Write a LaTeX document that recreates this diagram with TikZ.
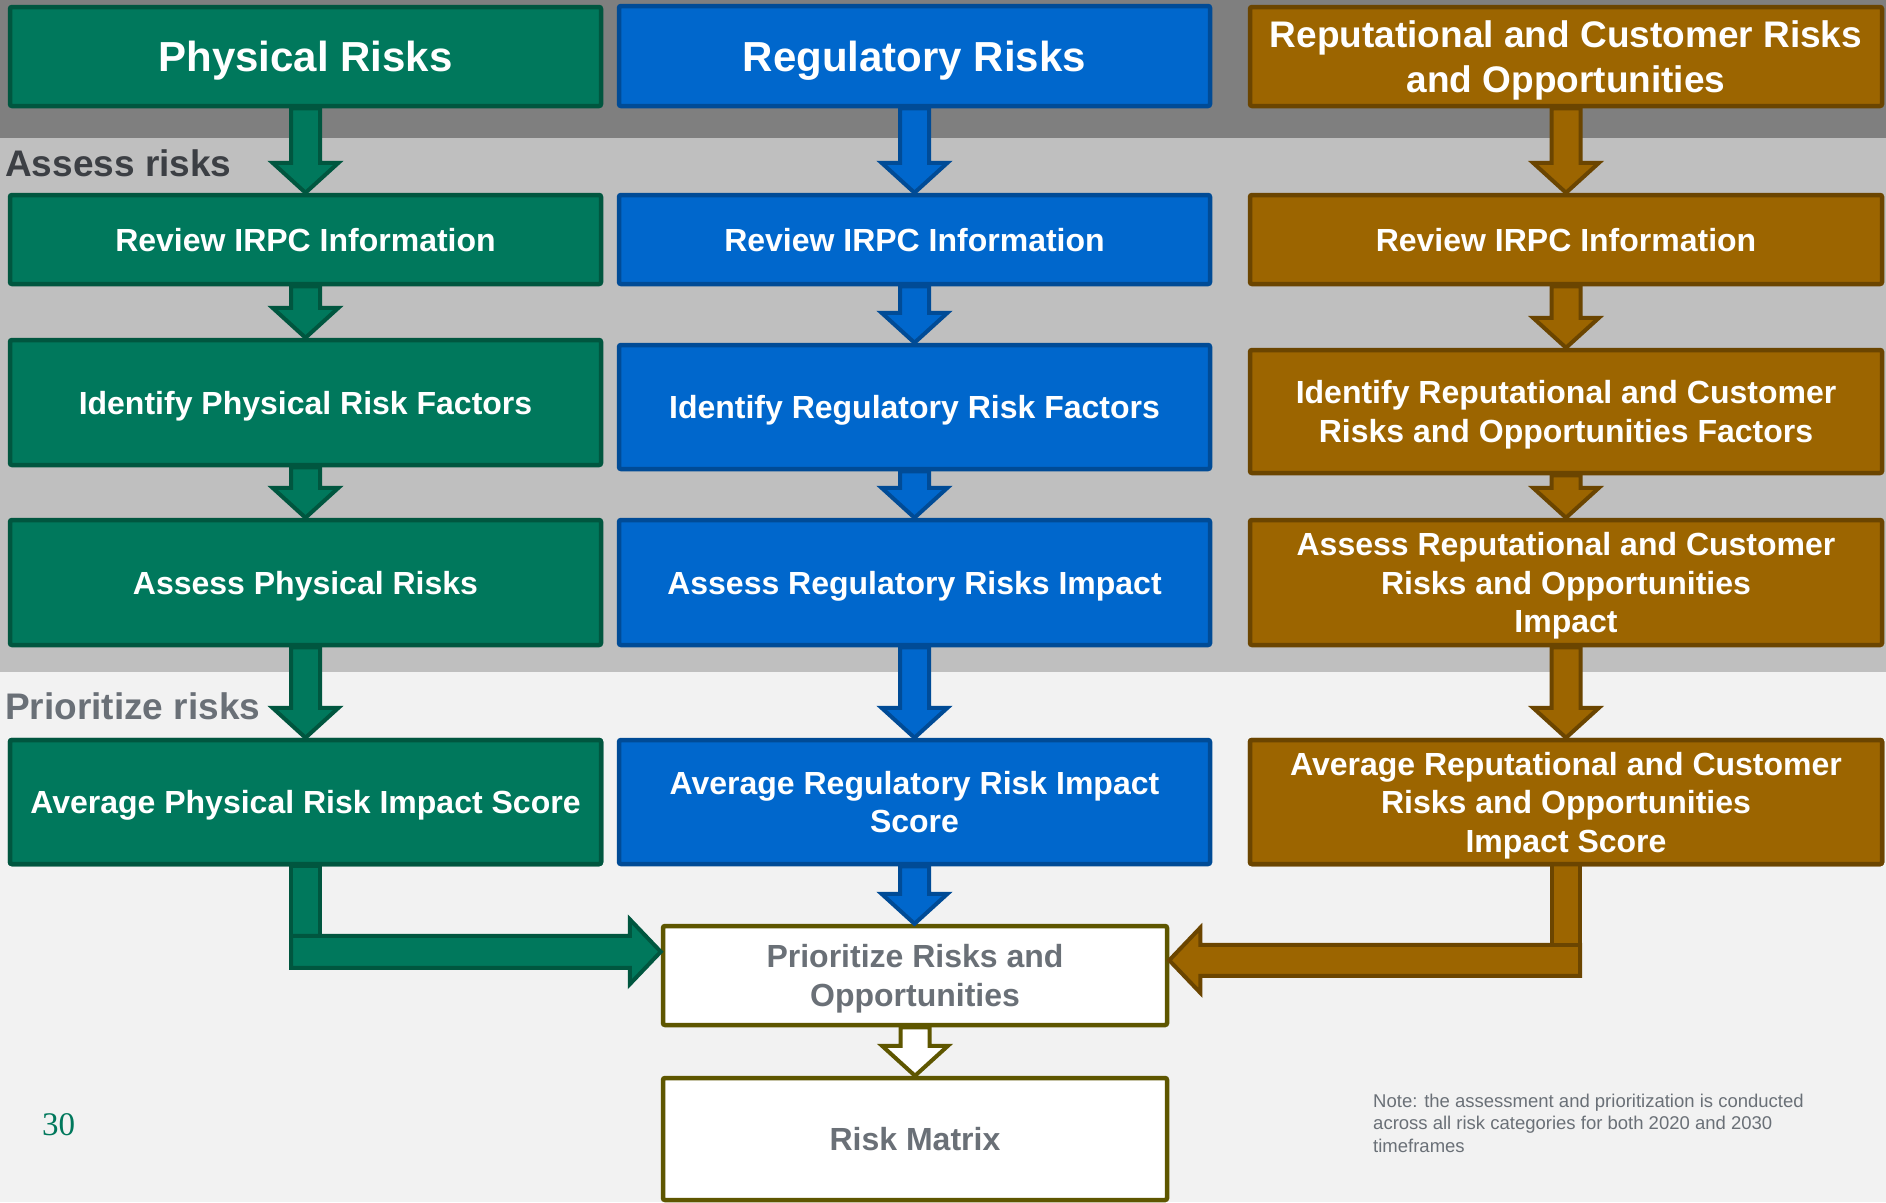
\documentclass[tikz,border=0pt]{standalone}
\usepackage{fontspec}
\setmainfont{Liberation Sans}
\newfontfamily\pagenumfont{Liberation Serif}
\usetikzlibrary{calc}

\definecolor{gfill}{HTML}{00785C}
\definecolor{gline}{HTML}{00563F}
\definecolor{bfill}{HTML}{0067CC}
\definecolor{bline}{HTML}{004B96}
\definecolor{rfill}{HTML}{9C6500}
\definecolor{rline}{HTML}{6B4500}
\definecolor{oline}{HTML}{5E5600}
\definecolor{bandA}{HTML}{7F7F7F}
\definecolor{bandB}{HTML}{BFBFBF}
\definecolor{bandC}{HTML}{F2F2F2}
\definecolor{txtgray}{HTML}{6A7077}
\definecolor{txtdark}{HTML}{3C3F44}

\tikzset{
  box/.style={rectangle, line width=4.5pt, rounded corners=2pt, align=center,
    inner sep=0pt, text depth=0pt, text=white,
    font=\bfseries\fontsize{32}{38.5}\selectfont},
  gbox/.style={box, draw=gline, fill=gfill},
  bbox/.style={box, draw=bline, fill=bfill},
  rbox/.style={box, draw=rline, fill=rfill},
  wbox/.style={box, draw=oline, fill=white, text=txtgray},
  flow/.style={line width=4pt, line join=miter},
  gflow/.style={flow, draw=gline, fill=gfill},
  bflow/.style={flow, draw=bline, fill=bfill},
  rflow/.style={flow, draw=rline, fill=rfill},
  wflow/.style={flow, draw=oline, fill=white},
  lanelabel/.style={anchor=base west, inner sep=0pt, font=\bfseries\fontsize{37}{44}\selectfont},
}

% vertical block arrow from the bottom of #1 to the top of #2
\newcommand\vflow[3]{%
  \draw[#3] let \p1=(#1.south), \p2=(#2.north) in
    (\x1-14.5pt,\y1) -- (\x1-14.5pt,\y2+30pt) -- (\x1-33pt,\y2+30pt) --
    (\x1,\y2) -- (\x1+33pt,\y2+30pt) -- (\x1+14.5pt,\y2+30pt) --
    (\x1+14.5pt,\y1) -- cycle;}

\begin{document}
\begin{tikzpicture}[x=1pt,y=-1pt]
\useasboundingbox (0,0) rectangle (1886,1202);

% background bands
\fill[bandA] (0,0) rectangle (1886,138);
\fill[bandB] (0,138) rectangle (1886,672);
\fill[bandC] (0,672) rectangle (1886,1202);

% lane labels
\node[lanelabel, text=txtdark] (lblassess) at (5,176) {Assess risks};
\node[lanelabel, text=txtgray] (lblprio) at (5,719) {Prioritize risks};

% column headers
\node[gbox, minimum width=591, minimum height=99, font=\bfseries\fontsize{42}{50}\selectfont]
  (phys) at (305.5,56.5) {Physical Risks};
\node[bbox, minimum width=591, minimum height=100, font=\bfseries\fontsize{42}{50}\selectfont]
  (reg) at (914.5,56) {Regulatory Risks};
\node[rbox, minimum width=632, minimum height=99, font=\bfseries\fontsize{37}{45}\selectfont]
  (rep) at (1566,56.5) {Reputational and Customer Risks\\and Opportunities};

% review step
\node[gbox, minimum width=591, minimum height=89] (physrev) at (305.5,239.5) {Review IRPC Information};
\node[bbox, minimum width=591, minimum height=89] (regrev) at (914.5,239.5) {Review IRPC Information};
\node[rbox, minimum width=632, minimum height=89] (reprev) at (1566,239.5) {Review IRPC Information};

% identify step
\node[gbox, minimum width=591, minimum height=125] (physid) at (305.5,402.5) {Identify Physical Risk Factors};
\node[bbox, minimum width=591, minimum height=124] (regid) at (914.5,407) {Identify Regulatory Risk Factors};
\node[rbox, minimum width=632, minimum height=123] (repid) at (1566,411.5)
  {Identify Reputational and Customer\\Risks and Opportunities Factors};

% assess step
\node[gbox, minimum width=591, minimum height=125] (physas) at (305.5,582.5) {Assess Physical Risks};
\node[bbox, minimum width=591, minimum height=125] (regas) at (914.5,582.5) {Assess Regulatory Risks Impact};
\node[rbox, minimum width=632, minimum height=125] (repas) at (1566,582.5)
  {Assess Reputational and Customer\\Risks and Opportunities\\Impact};

% average score step
\node[gbox, minimum width=591, minimum height=124] (physavg) at (305.5,802) {Average Physical Risk Impact Score};
\node[bbox, minimum width=591, minimum height=124] (regavg) at (914.5,802) {Average Regulatory Risk Impact\\Score};
\node[rbox, minimum width=632, minimum height=124] (repavg) at (1566,802)
  {Average Reputational and Customer\\Risks and Opportunities\\Impact Score};

% common steps
\node[wbox, minimum width=504, minimum height=99] (prio) at (915,975.5) {Prioritize Risks and\\Opportunities};
\node[wbox, minimum width=504, minimum height=122] (matrix) at (915,1139) {Risk Matrix};

% column flows
\vflow{phys}{physrev}{gflow}
\vflow{physrev}{physid}{gflow}
\vflow{physid}{physas}{gflow}
\vflow{physas}{physavg}{gflow}
\vflow{reg}{regrev}{bflow}
\vflow{regrev}{regid}{bflow}
\vflow{regid}{regas}{bflow}
\vflow{regas}{regavg}{bflow}
\vflow{regavg}{prio}{bflow}
\vflow{rep}{reprev}{rflow}
\vflow{reprev}{repid}{rflow}
\vflow{repid}{repas}{rflow}
\vflow{repas}{repavg}{rflow}
\vflow{prio}{matrix}{wflow}

% elbow flow from the physical column into the prioritization step
\draw[gflow] let \p1=(physavg.south), \p2=($(prio.north west)+(0,28)$) in
  (\x1-14.5pt,\y1) rectangle (\x1+14.5pt,\y2-16pt);
\draw[gflow] let \p1=(physavg.south), \p2=($(prio.north west)+(0,28)$) in
  (\x1-14.5pt,\y2+16pt) -- (\x2-31pt,\y2+16pt) -- (\x2-31pt,\y2+32.5pt) --
  (\x2,\y2) -- (\x2-31pt,\y2-32.5pt) -- (\x2-31pt,\y2-16pt) --
  (\x1-14.5pt,\y2-16pt) -- cycle;

% elbow flow from the reputational column into the prioritization step
\draw[rflow] let \p1=(repavg.south), \p2=($(prio.north east)+(0,36.5)$) in
  (\x1+14pt,\y2+15.5pt) -- (\x2+31pt,\y2+15.5pt) -- (\x2+31pt,\y2+32.5pt) --
  (\x2,\y2) -- (\x2+31pt,\y2-32.5pt) -- (\x2+31pt,\y2-15.5pt) --
  (\x1+14pt,\y2-15.5pt) -- cycle;
\draw[rflow] let \p1=(repavg.south), \p2=($(prio.north east)+(0,36.5)$) in
  (\x1-14pt,\y1) -- (\x1-14pt,\y2+15.5pt) -- (\x1+14pt,\y2+15.5pt) -- (\x1+14pt,\y1);

% redraw boxes touched by the flows so their borders stay on top
\node[gbox, minimum width=591, minimum height=124] at (physavg) {Average Physical Risk Impact Score};
\node[rbox, minimum width=632, minimum height=124] at (repavg)
  {Average Reputational and Customer\\Risks and Opportunities\\Impact Score};

% footnote and page number
\node[anchor=base west, inner sep=0pt, align=left, text=txtgray,
  font=\fontsize{18.5}{22.5}\selectfont] (note) at (1373,1152)
  {Note: the assessment and prioritization is conducted\\
   across all risk categories for both 2020 and 2030\\
   timeframes};
\node[anchor=base west, inner sep=0pt, text=gfill,
  font=\pagenumfont\fontsize{33}{40}\selectfont] (pagenum) at (42,1135) {30};
\end{tikzpicture}
\end{document}
